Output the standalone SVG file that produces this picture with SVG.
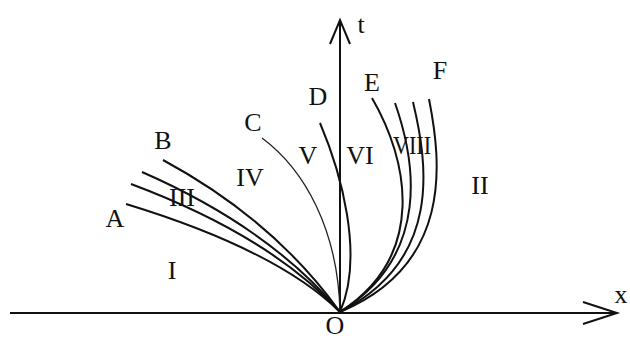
<svg xmlns="http://www.w3.org/2000/svg" width="630" height="341" viewBox="0 0 630 341">
<style>
.ax{stroke:#111;stroke-width:2;fill:none}
.cv{stroke:#111;stroke-width:2;fill:none}
.thin{stroke:#222;stroke-width:1.3;fill:none}
text{font-family:"Liberation Serif","Times New Roman",serif;font-size:26px;fill:#111;text-anchor:middle}
</style>
<rect width="630" height="341" fill="#fff"/>
<g id="connectors">
<path class="ax" d="M10,313 H617"/>
<path class="ax" d="M583,302 L617,313 L583,324"/>
<path class="ax" d="M340,313 V20"/>
<path class="ax" d="M330,44 L340,20 L350,44"/>
<path id="curve-A" class="cv" d="M126,204 Q277,250 340,312"/>
<path class="cv" d="M131,184 Q270,236 340,312"/>
<path class="cv" d="M142,172 Q270,228 340,312"/>
<path id="curve-B" class="cv" d="M163,160 Q274,220 340,312"/>
<path id="curve-C" class="thin" d="M262,138 C305,170 338,230 340,312"/>
<path id="curve-D" class="cv" d="M320,123 C340,170 365,255 340,312"/>
<path id="curve-E" class="cv" d="M372,98 C408,160 428,255 340,312"/>
<path class="cv" d="M395,103 C415,160 432,255 340,312"/>
<path class="cv" d="M413,102 C428,165 442,260 340,312"/>
<path id="curve-F" class="cv" d="M429,99 C442,165 452,265 340,312"/>
</g>
<g id="labels">
<text x="115" y="227">A</text>
<text x="163" y="149">B</text>
<text x="253" y="131">C</text>
<text x="318" y="105">D</text>
<text x="372" y="91">E</text>
<text x="440" y="79">F</text>
<text x="172" y="279">I</text>
<text x="480" y="194">II</text>
<text x="182" y="206">III</text>
<text x="250" y="186">IV</text>
<text x="308" y="164">V</text>
<text x="360" y="164">VI</text>
<text x="412" y="154" textLength="38" lengthAdjust="spacingAndGlyphs">VIII</text>
<text x="335" y="334">O</text>
<text x="361" y="33">t</text>
<text x="621" y="303">x</text>
</g>
</svg>
